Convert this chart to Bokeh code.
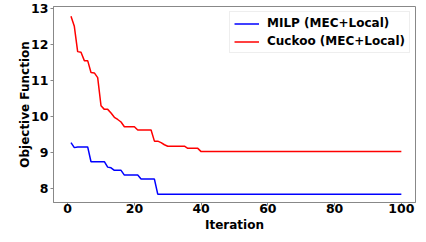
from bokeh.plotting import figure
from bokeh.models import Range1d, FixedTicker, Legend, LegendItem
from bokeh.embed import file_html
from bokeh.resources import INLINE

iterations = list(range(1, 101))

milp = ([9.28, 9.14, 9.16, 9.16, 9.16, 9.16]
        + [8.75] * 5
        + [8.60, 8.58, 8.51, 8.51, 8.51]
        + [8.38] * 5
        + [8.27] * 5
        + [7.85] * 74)

cuckoo = ([12.78, 12.50, 11.80, 11.78, 11.55, 11.55, 11.22, 11.21, 11.08,
           10.30, 10.20, 10.20, 10.10, 9.98, 9.92, 9.85]
          + [9.72] * 4
          + [9.63] * 5
          + [9.32, 9.32, 9.28, 9.22]
          + [9.18] * 6
          + [9.12] * 4
          + [9.03] * 61)

x_ticks = [0, 20, 40, 60, 80, 100]
y_ticks = [8, 9, 10, 11, 12, 13]

FONT = "DejaVu Sans"

p = figure(width=418, height=234, output_backend="svg", toolbar_location=None,
           x_range=Range1d(-4.24, 104.24), y_range=Range1d(7.62, 13.05),
           min_border_left=53, min_border_right=3, min_border_top=6, min_border_bottom=32)

p.xgrid.visible = False
p.ygrid.visible = False
p.outline_line_color = "#888888"
p.outline_line_width = 1
p.background_fill_color = "white"
p.border_fill_color = "white"

l1 = p.line(iterations, milp, line_color="#0000ff", line_width=1.5)
l2 = p.line(iterations, cuckoo, line_color="#ff0000", line_width=1.5)

for ax in (p.xaxis[0], p.yaxis[0]):
    ax.axis_line_color = "#888888"
    ax.major_tick_line_color = "#888888"
    ax.minor_tick_line_color = None
    ax.major_tick_out = 3
    ax.major_tick_in = 0
    ax.major_label_text_font = FONT
    ax.major_label_text_font_style = "bold"
    ax.major_label_text_font_size = "12.5px"
    ax.major_label_text_color = "black"
    ax.axis_label_text_font = FONT
    ax.axis_label_text_font_style = "bold"
    ax.axis_label_text_font_size = "12px"
    ax.axis_label_text_color = "black"

p.xaxis.ticker = FixedTicker(ticks=x_ticks)
p.yaxis.ticker = FixedTicker(ticks=y_ticks)
p.xaxis.axis_label = "Iteration"
p.yaxis.axis_label = "Objective Function"
p.xaxis.major_label_standoff = -2
p.yaxis.major_label_standoff = 2
p.xaxis.axis_label_standoff = 2
p.yaxis.axis_label_standoff = -4

legend = Legend(items=[LegendItem(label="MILP (MEC+Local)", renderers=[l1]),
                       LegendItem(label="Cuckoo (MEC+Local)", renderers=[l2])],
                location="top_right")
legend.label_text_font = FONT
legend.label_text_font_style = "bold"
legend.label_text_font_size = "12px"
legend.label_text_color = "black"
legend.border_line_color = "#dddddd"
legend.border_line_width = 1
legend.background_fill_alpha = 0.9
legend.glyph_width = 25
legend.glyph_height = 13
legend.label_height = 13
legend.spacing = 4
legend.padding = 4
legend.margin = 5
legend.label_standoff = 8
p.add_layout(legend)

open("out.html", "w").write(file_html(p, INLINE))
